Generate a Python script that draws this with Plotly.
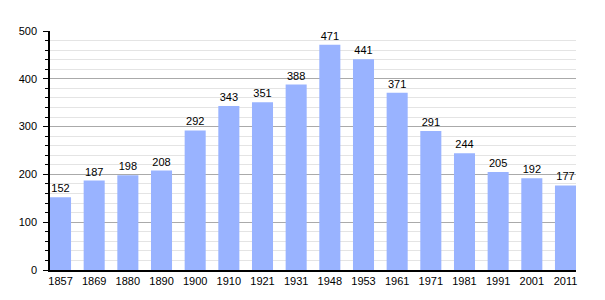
import plotly.graph_objects as go

years = ["1857", "1869", "1880", "1890", "1900", "1910", "1921", "1931", "1948", "1953",
         "1961", "1971", "1981", "1991", "2001", "2011"]
population = [152, 187, 198, 208, 292, 343, 351, 388, 471, 441, 371, 291, 244, 205, 192, 177]
y_ticks = [0, 100, 200, 300, 400, 500]

x = list(range(len(years)))
w = 0.625

fig = go.Figure(go.Bar(
    x=x, y=population, width=w,
    marker=dict(color="#99b3ff", line=dict(width=0)),
    text=[str(v) for v in population], textposition="outside",
    textfont=dict(family="Liberation Sans, Arial", size=11, color="#000"),
    cliponaxis=False,
))

fig.update_layout(
    width=605, height=300,
    margin=dict(l=50, r=29, t=31, b=30),
    paper_bgcolor="white", plot_bgcolor="white",
    showlegend=False,
    font=dict(family="Liberation Sans, Arial", size=11, color="#000"),
    xaxis=dict(
        tickmode="array", tickvals=x, ticktext=years,
        range=[-w / 2, len(years) - 1 + w / 2],
        showline=True, linecolor="#000", linewidth=1.5,
        showgrid=False, ticks="", zeroline=False,
        tickfont=dict(size=11),
    ),
    yaxis=dict(
        range=[0, 500], tickvals=y_ticks,
        showline=True, linecolor="#000", linewidth=1.5,
        showgrid=True, gridcolor="#aaaaaa", gridwidth=1,
        ticks="outside", ticklen=5, tickcolor="#000",
        ticklabelstandoff=4,
        zeroline=False,
        minor=dict(dtick=20, showgrid=True, gridcolor="#e4e4e4", ticks="outside", ticklen=3, tickcolor="#000"),
        tickfont=dict(size=11),
    ),
)

fig.write_html("out.html")
